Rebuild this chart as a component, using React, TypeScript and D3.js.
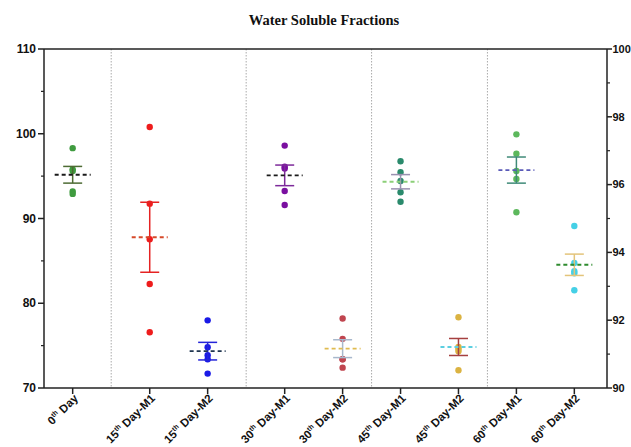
import React from "react";
import * as d3 from "d3";

// ---- data ----
const categories = ["0", "15", "15", "30", "30", "45", "45", "60", "60"];
const suffixes = ["Day", "Day-M1", "Day-M2", "Day-M1", "Day-M2", "Day-M1", "Day-M2", "Day-M1", "Day-M2"];
const day0 = [98.3, 95.8, 95.6, 93.2, 92.9];
const day15M1 = [100.8, 91.75, 87.55, 82.27, 76.57];
const day15M2 = [77.98, 74.8, 73.86, 73.4, 71.7];
const day30M1 = [98.6, 96.1, 95.9, 93.25, 91.6];
const day30M2 = [78.2, 75.8, 73.4, 73.4, 72.4];
const day45M1 = [96.75, 95.45, 94.42, 93.09, 91.98];
const day45M2 = [78.34, 74.84, 74.6, 74.33, 72.09];
const day60M1 = [99.93, 97.65, 95.6, 94.66, 90.73];
const day60M2 = [89.12, 84.75, 83.77, 83.53, 81.53];
const series = [day0, day15M1, day15M2, day30M1, day30M2, day45M1, day45M2, day60M1, day60M2];
const leftTicks = [70, 80, 90, 100, 110];
const leftMinor = [75, 85, 95, 105];
const rightTicks = [90, 92, 94, 96, 98, 100];
const rightMinor = [91, 93, 95, 97, 99];

// ---- styles ----
const pointColors = ["#3f9b3f", "#ee1c1c", "#1a1ae6", "#7a0fa0", "#c0454f", "#2a8a6c", "#dbb342", "#5cb85c", "#45d0e6"];
const errColors = ["#4d6b33", "#e52222", "#2424d8", "#7d2a9a", "#a8b8cc", "#9a90b0", "#a54040", "#3f8a78", "#e3c47a"];
const meanColors = ["#1a1a1a", "#d64a2a", "#1f3550", "#1a1a1a", "#e0bb50", "#8ccf78", "#5ccfe0", "#5a5ab8", "#2e8b2e"];

const W = 631, H = 447;
const left = 44, right = 607, top = 49, bottom = 388;
// slot index with extra gaps after first and third category
const slot = (i: number) => i + (i >= 1 ? 0.33 : 0) + (i >= 3 ? 0.33 : 0);
const x = d3.scaleLinear().domain([-0.495, 9.224]).range([left, right]);
const y = d3.scaleLinear().domain([70, 110]).range([bottom, top]);
const yR = d3.scaleLinear().domain([90, 100]).range([bottom, top]);
const separators = [[0, 1], [2, 3], [4, 5], [6, 7]];

const axisColor = "#222";
const tickFont = "'Liberation Sans', Arial, sans-serif";

export default function App() {
  return (
    <svg width={W} height={H} style={{ position: "absolute", left: 0, top: 0 }} fontFamily={tickFont}>
      <rect width={W} height={H} fill="#fff" />
      <text x={324} y={25} textAnchor="middle" fontFamily="'Liberation Serif', 'Times New Roman', serif" fontWeight="bold" fontSize={14.5} fill="#111">
        Water Soluble Fractions
      </text>
      {/* separators */}
      {separators.map(([a, b], i) => {
        const sx = x((slot(a) + slot(b)) / 2);
        return <line key={i} x1={sx} x2={sx} y1={top} y2={bottom} stroke="#aaa" strokeWidth={1} strokeDasharray="1.5,1.5" />;
      })}
      {/* axes */}
      <line x1={left} x2={right} y1={top} y2={top} stroke={axisColor} strokeWidth={1.5} />
      <line x1={left} x2={right} y1={bottom} y2={bottom} stroke={axisColor} strokeWidth={1.5} />
      <line x1={left} x2={left} y1={top} y2={bottom} stroke={axisColor} strokeWidth={1.5} />
      <line x1={right} x2={right} y1={top} y2={bottom} stroke={axisColor} strokeWidth={1.5} />
      {leftTicks.map((t) => (
        <g key={"l" + t}>
          <line x1={left - 6} x2={left} y1={y(t)} y2={y(t)} stroke={axisColor} strokeWidth={1.5} />
          <text x={left - 8} y={y(t)} dy="0.35em" textAnchor="end" fontWeight="bold" fontSize={12} fill="#111">{t}</text>
        </g>
      ))}
      {leftMinor.map((t) => (
        <line key={"lm" + t} x1={left - 3} x2={left} y1={y(t)} y2={y(t)} stroke={axisColor} strokeWidth={1.2} />
      ))}
      {rightTicks.map((t) => (
        <g key={"r" + t}>
          <line x1={right} x2={right + 5} y1={yR(t)} y2={yR(t)} stroke={axisColor} strokeWidth={1.5} />
          <text x={right + 5.5} y={yR(t)} dy="0.35em" textAnchor="start" fontWeight="bold" fontSize={11} fill="#111">{t}</text>
        </g>
      ))}
      {rightMinor.map((t) => (
        <line key={"rm" + t} x1={right} x2={right + 3} y1={yR(t)} y2={yR(t)} stroke={axisColor} strokeWidth={1.2} />
      ))}
      {categories.map((c, i) => {
        const cx = x(slot(i));
        return (
          <g key={"x" + i}>
            <line x1={cx} x2={cx} y1={bottom} y2={bottom + 6} stroke={axisColor} strokeWidth={1.5} />
            <text transform={`translate(${cx + 6},${bottom + 11}) rotate(-45)`} textAnchor="end" fontWeight="bold" fontSize={11.5} fill="#111">
              {c}
              <tspan fontSize={7} dy={-4.5}>th</tspan>
              <tspan dy={4.5}>{" " + suffixes[i]}</tspan>
            </text>
          </g>
        );
      })}
      {/* data */}
      {series.map((vals, i) => {
        const cx = x(slot(i));
        const m = d3.mean(vals) as number;
        const sem = (d3.deviation(vals) as number) / Math.sqrt(vals.length);
        return (
          <g key={"s" + i}>
            {vals.map((v, j) => (
              <circle key={j} cx={cx} cy={y(v)} r={3.2} fill={pointColors[i]} />
            ))}
            <line x1={cx} x2={cx} y1={y(m - sem)} y2={y(m + sem)} stroke={errColors[i]} strokeWidth={1.5} />
            <line x1={cx - 9.5} x2={cx + 9.5} y1={y(m + sem)} y2={y(m + sem)} stroke={errColors[i]} strokeWidth={1.5} />
            <line x1={cx - 9.5} x2={cx + 9.5} y1={y(m - sem)} y2={y(m - sem)} stroke={errColors[i]} strokeWidth={1.5} />
            <line x1={cx - 18} x2={cx + 18} y1={y(m)} y2={y(m)} stroke={meanColors[i]} strokeWidth={1.8} strokeDasharray="4,3" />
          </g>
        );
      })}
    </svg>
  );
}
